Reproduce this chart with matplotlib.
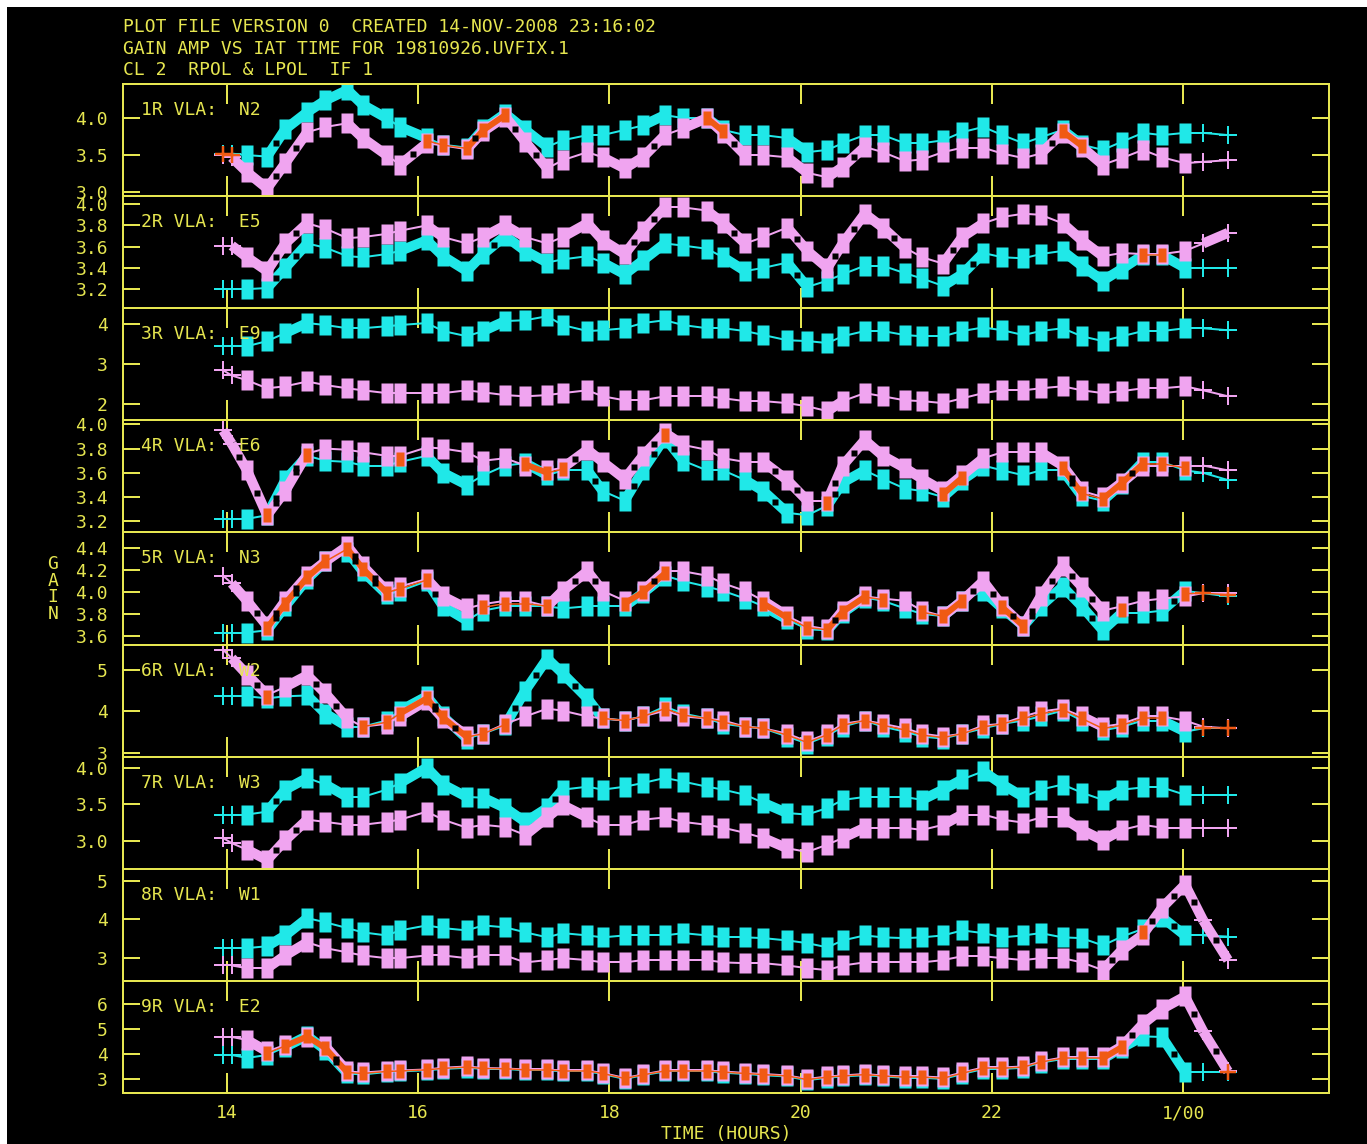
import numpy as np
import matplotlib
matplotlib.use("Agg")
import matplotlib.pyplot as plt
from matplotlib.collections import LineCollection
from matplotlib.patches import Rectangle
from matplotlib.path import Path

plt.rcParams['font.family'] = ['DejaVu Sans Mono']

W, H, DPI = 1367, 1144, 100
PX = 72.0 / DPI          # points per pixel
YEL = '#e6e650'
CYAN = '#20e8e8'
PINK = '#f0a4f0'
ORANGE = '#f05a14'
FS = 13

# ---- data -------------------------------------------------------------
# IAT sample times in hours (values past 24 run into the next day)
times = [13.96, 14.05, 14.21, 14.42, 14.61, 14.84, 15.03, 15.26, 15.42, 15.67,
         15.81, 16.09, 16.26, 16.51, 16.68, 16.91, 17.12, 17.35, 17.51, 17.77,
         17.93, 18.16, 18.35, 18.58, 18.77, 19.02, 19.19, 19.42, 19.61, 19.86,
         20.07, 20.28, 20.44, 20.67, 20.86, 21.09, 21.27, 21.49, 21.69, 21.91,
         22.11, 22.33, 22.51, 22.74, 22.94, 23.16, 23.36, 23.58, 23.78, 24.02,
         24.21, 24.47]

antennas = ['1R VLA:  N2', '2R VLA:  E5', '3R VLA:  E9', '4R VLA:  E6',
            '5R VLA:  N3', '6R VLA:  W2', '7R VLA:  W3', '8R VLA:  W1',
            '9R VLA:  E2']

rpol_n2 = [3.52, 3.52, 3.50, 3.48, 3.85, 4.08, 4.24, 4.38, 4.18, 4.00,
           3.88, 3.73, 3.64, 3.60, 3.85, 4.06, 3.84, 3.61, 3.70, 3.77,
           3.77, 3.84, 3.90, 4.04, 4.00, 4.00, 3.84, 3.77, 3.77, 3.73,
           3.54, 3.57, 3.66, 3.77, 3.77, 3.66, 3.66, 3.70, 3.81, 3.88,
           3.77, 3.66, 3.74, 3.84, 3.64, 3.57, 3.68, 3.80, 3.77, 3.80,
           3.80, 3.77]
lpol_n2 = [3.50, 3.47, 3.27, 3.05, 3.39, 3.81, 3.88, 3.93, 3.73, 3.50,
           3.37, 3.66, 3.63, 3.58, 3.82, 4.02, 3.68, 3.32, 3.43, 3.54,
           3.47, 3.32, 3.47, 3.77, 3.86, 4.00, 3.80, 3.50, 3.50, 3.47,
           3.26, 3.20, 3.34, 3.61, 3.54, 3.42, 3.44, 3.54, 3.60, 3.60,
           3.52, 3.46, 3.52, 3.80, 3.61, 3.37, 3.46, 3.57, 3.47, 3.39,
           3.41, 3.43]

rpol_e5 = [3.20, 3.20, 3.20, 3.21, 3.40, 3.63, 3.59, 3.51, 3.50, 3.53,
           3.56, 3.66, 3.51, 3.37, 3.53, 3.70, 3.56, 3.45, 3.48, 3.51,
           3.45, 3.34, 3.47, 3.63, 3.61, 3.58, 3.50, 3.37, 3.40, 3.45,
           3.22, 3.28, 3.34, 3.42, 3.42, 3.35, 3.30, 3.23, 3.34, 3.54,
           3.50, 3.49, 3.53, 3.56, 3.42, 3.28, 3.39, 3.52, 3.52, 3.40,
           3.40, 3.40]
lpol_e5 = [3.61, 3.61, 3.50, 3.37, 3.63, 3.82, 3.77, 3.68, 3.69, 3.72,
           3.75, 3.80, 3.69, 3.63, 3.69, 3.80, 3.69, 3.63, 3.69, 3.82,
           3.66, 3.53, 3.75, 3.97, 3.97, 3.94, 3.82, 3.63, 3.69, 3.78,
           3.56, 3.40, 3.63, 3.91, 3.78, 3.59, 3.50, 3.44, 3.69, 3.82,
           3.88, 3.91, 3.90, 3.82, 3.66, 3.51, 3.54, 3.53, 3.53, 3.56,
           3.63, 3.73]

rpol_e9 = [3.45, 3.45, 3.45, 3.58, 3.78, 4.03, 3.98, 3.90, 3.90, 3.95,
           3.98, 4.03, 3.83, 3.70, 3.83, 4.08, 4.10, 4.20, 3.98, 3.83,
           3.85, 3.90, 4.03, 4.10, 3.98, 3.90, 3.90, 3.83, 3.73, 3.60,
           3.58, 3.53, 3.70, 3.83, 3.83, 3.73, 3.70, 3.70, 3.83, 3.92,
           3.85, 3.73, 3.83, 3.90, 3.70, 3.58, 3.70, 3.83, 3.83, 3.90,
           3.90, 3.85]
lpol_e9 = [2.85, 2.72, 2.60, 2.40, 2.45, 2.57, 2.48, 2.40, 2.35, 2.28,
           2.28, 2.28, 2.28, 2.35, 2.30, 2.23, 2.20, 2.23, 2.28, 2.35,
           2.20, 2.10, 2.10, 2.20, 2.20, 2.20, 2.15, 2.08, 2.08, 2.03,
           1.95, 1.83, 2.08, 2.28, 2.20, 2.10, 2.08, 2.03, 2.15, 2.28,
           2.35, 2.35, 2.40, 2.45, 2.35, 2.28, 2.33, 2.40, 2.40, 2.45,
           2.35, 2.20]

rpol_e6 = [3.22, 3.22, 3.22, 3.25, 3.54, 3.74, 3.70, 3.69, 3.66, 3.66,
           3.69, 3.74, 3.60, 3.50, 3.58, 3.66, 3.68, 3.58, 3.62, 3.62,
           3.45, 3.37, 3.62, 3.89, 3.70, 3.62, 3.62, 3.54, 3.45, 3.27,
           3.25, 3.33, 3.52, 3.62, 3.55, 3.47, 3.45, 3.40, 3.54, 3.66,
           3.62, 3.58, 3.62, 3.62, 3.41, 3.37, 3.51, 3.69, 3.69, 3.62,
           3.60, 3.54]
lpol_e6 = [3.95, 3.84, 3.62, 3.25, 3.45, 3.76, 3.80, 3.79, 3.77, 3.74,
           3.74, 3.81, 3.80, 3.77, 3.70, 3.72, 3.66, 3.62, 3.64, 3.79,
           3.69, 3.55, 3.74, 3.93, 3.83, 3.79, 3.72, 3.69, 3.69, 3.54,
           3.37, 3.37, 3.66, 3.87, 3.74, 3.64, 3.55, 3.45, 3.58, 3.72,
           3.77, 3.77, 3.77, 3.66, 3.45, 3.40, 3.52, 3.66, 3.66, 3.66,
           3.66, 3.62]

rpol_n3 = [3.63, 3.63, 3.63, 3.65, 3.87, 4.12, 4.28, 4.37, 4.19, 3.98,
           4.01, 4.10, 3.87, 3.74, 3.83, 3.87, 3.87, 3.87, 3.85, 3.87,
           3.87, 3.87, 3.99, 4.15, 4.10, 4.05, 4.01, 3.94, 3.87, 3.75,
           3.66, 3.65, 3.81, 3.95, 3.92, 3.85, 3.80, 3.78, 3.92, 4.01,
           3.85, 3.69, 3.87, 4.05, 3.87, 3.65, 3.81, 3.81, 3.83, 4.01,
           3.99, 3.96]
lpol_n3 = [4.15, 4.08, 3.92, 3.69, 3.92, 4.15, 4.28, 4.42, 4.24, 4.01,
           4.05, 4.12, 3.96, 3.85, 3.89, 3.92, 3.92, 3.87, 4.01, 4.19,
           4.01, 3.92, 4.01, 4.19, 4.19, 4.15, 4.08, 4.01, 3.92, 3.78,
           3.69, 3.66, 3.83, 3.96, 3.94, 3.92, 3.83, 3.78, 3.92, 4.10,
           3.87, 3.69, 3.96, 4.24, 4.05, 3.83, 3.87, 3.92, 3.94, 3.96,
           3.99, 3.99]

rpol_w2 = [4.37, 4.37, 4.37, 4.32, 4.37, 4.39, 3.95, 3.63, 3.63, 3.78,
           4.02, 4.37, 3.88, 3.34, 3.46, 3.66, 4.51, 5.29, 4.93, 4.32,
           3.83, 3.78, 3.88, 4.12, 3.95, 3.83, 3.70, 3.63, 3.59, 3.39,
           3.22, 3.41, 3.63, 3.78, 3.63, 3.51, 3.39, 3.34, 3.46, 3.59,
           3.70, 3.78, 3.88, 4.02, 3.78, 3.54, 3.63, 3.78, 3.78, 3.51,
           3.59, 3.59]
lpol_w2 = [5.50, 5.30, 4.90, 4.40, 4.60, 4.88, 4.44, 3.83, 3.63, 3.70,
           3.88, 4.27, 3.83, 3.41, 3.46, 3.70, 3.88, 4.07, 4.02, 3.88,
           3.83, 3.78, 3.88, 4.02, 3.88, 3.83, 3.78, 3.63, 3.59, 3.46,
           3.27, 3.46, 3.70, 3.78, 3.70, 3.59, 3.46, 3.39, 3.46, 3.66,
           3.70, 3.88, 4.00, 4.07, 3.88, 3.63, 3.70, 3.88, 3.88, 3.78,
           3.63, 3.59]

rpol_w3 = [3.36, 3.36, 3.36, 3.40, 3.70, 3.86, 3.77, 3.60, 3.60, 3.70,
           3.79, 4.00, 3.77, 3.60, 3.59, 3.45, 3.26, 3.45, 3.70, 3.74,
           3.70, 3.74, 3.79, 3.86, 3.81, 3.74, 3.70, 3.63, 3.52, 3.38,
           3.36, 3.45, 3.56, 3.60, 3.60, 3.60, 3.56, 3.70, 3.84, 3.95,
           3.77, 3.60, 3.70, 3.77, 3.66, 3.56, 3.70, 3.73, 3.73, 3.63,
           3.63, 3.63]
lpol_w3 = [3.04, 2.97, 2.88, 2.74, 3.01, 3.29, 3.26, 3.22, 3.22, 3.26,
           3.29, 3.40, 3.29, 3.18, 3.22, 3.19, 3.08, 3.32, 3.49, 3.32,
           3.22, 3.22, 3.29, 3.32, 3.26, 3.22, 3.18, 3.11, 3.04, 2.90,
           2.85, 2.95, 3.04, 3.18, 3.18, 3.18, 3.15, 3.22, 3.36, 3.36,
           3.29, 3.25, 3.32, 3.32, 3.15, 3.01, 3.15, 3.22, 3.18, 3.18,
           3.18, 3.18]

rpol_w1 = [3.25, 3.25, 3.25, 3.30, 3.58, 4.03, 3.92, 3.77, 3.66, 3.58,
           3.71, 3.84, 3.77, 3.71, 3.84, 3.79, 3.66, 3.53, 3.64, 3.58,
           3.53, 3.58, 3.58, 3.58, 3.64, 3.58, 3.53, 3.53, 3.51, 3.45,
           3.38, 3.27, 3.45, 3.58, 3.53, 3.51, 3.53, 3.58, 3.71, 3.64,
           3.53, 3.58, 3.64, 3.53, 3.51, 3.32, 3.55, 3.75, 4.05, 3.58,
           3.58, 3.55]
lpol_w1 = [2.80, 2.80, 2.73, 2.73, 3.06, 3.40, 3.25, 3.14, 3.06, 2.99,
           2.99, 3.06, 3.06, 2.99, 3.06, 3.06, 2.88, 2.94, 2.99, 2.94,
           2.88, 2.88, 2.94, 2.94, 2.94, 2.94, 2.88, 2.86, 2.86, 2.80,
           2.73, 2.68, 2.80, 2.88, 2.88, 2.88, 2.88, 2.94, 3.04, 3.04,
           2.99, 2.94, 2.99, 2.99, 2.88, 2.68, 3.20, 3.60, 4.30, 4.90,
           3.97, 2.94]

rpol_e2 = [3.96, 3.96, 3.84, 3.96, 4.28, 4.72, 4.16, 3.22, 3.18, 3.28,
           3.30, 3.35, 3.40, 3.45, 3.40, 3.40, 3.35, 3.35, 3.30, 3.30,
           3.20, 3.00, 3.15, 3.30, 3.30, 3.30, 3.25, 3.20, 3.15, 3.10,
           2.95, 3.05, 3.10, 3.15, 3.10, 3.05, 3.05, 3.00, 3.20, 3.40,
           3.40, 3.45, 3.65, 3.80, 3.80, 3.80, 4.25, 4.70, 4.68, 3.28,
           3.28, 3.28]
lpol_e2 = [4.68, 4.68, 4.56, 4.10, 4.36, 4.68, 4.30, 3.30, 3.26, 3.32,
           3.34, 3.38, 3.45, 3.50, 3.44, 3.42, 3.38, 3.38, 3.34, 3.34,
           3.24, 3.04, 3.18, 3.34, 3.34, 3.34, 3.30, 3.24, 3.20, 3.14,
           3.00, 3.10, 3.14, 3.20, 3.14, 3.10, 3.10, 3.06, 3.26, 3.46,
           3.46, 3.50, 3.70, 3.86, 3.86, 3.86, 4.30, 5.20, 5.80, 6.30,
           4.90, 3.30]

rpol = [rpol_n2, rpol_e5, rpol_e9, rpol_e6, rpol_n3, rpol_w2, rpol_w3, rpol_w1, rpol_e2]
lpol = [lpol_n2, lpol_e5, lpol_e9, lpol_e6, lpol_n3, lpol_w2, lpol_w3, lpol_w1, lpol_e2]

ylims = [(2.946, 4.46), (3.02, 4.076), (1.6, 4.4), (3.108, 4.033), (3.52, 4.545),
         (2.9, 5.63), (2.62, 4.15), (2.40, 5.31), (2.44, 6.92)]
yticks = [[3.0, 3.5, 4.0], [3.2, 3.4, 3.6, 3.8, 4.0], [2, 3, 4],
          [3.2, 3.4, 3.6, 3.8, 4.0], [3.6, 3.8, 4.0, 4.2, 4.4], [3, 4, 5],
          [3.0, 3.5, 4.0], [3, 4, 5], [3, 4, 5, 6]]
yfmt = ['%.1f', '%.1f', '%d', '%.1f', '%.1f', '%d', '%.1f', '%d', '%d']

xticks = [14, 16, 18, 20, 22, 24]
xticklabels = ['14', '16', '18', '20', '22', '1/00']
xlim = (12.913, 25.526)

# ---- drawing helpers --------------------------------------------------
BOX = Path([(-0.6, -1), (0.6, -1), (0.6, 1), (-0.6, 1), (-0.6, -1)],
           [Path.MOVETO, Path.LINETO, Path.LINETO, Path.LINETO, Path.CLOSEPOLY])
STEEP_PX = 10.0


def draw_track(ax, t, v, color, z, scale=1.0):
    t = np.asarray(t, float)
    v = np.asarray(v, float)
    pts = np.column_stack([t, v])
    disp = ax.transData.transform(pts)
    dy = np.abs(np.diff(disp[:, 1]))
    steep = dy > STEEP_PX
    segs = np.stack([pts[:-1], pts[1:]], axis=1)
    lws = np.where(steep, 10 * PX, 2 * PX) * scale
    ax.add_collection(LineCollection(segs, colors=color, linewidths=lws,
                                     capstyle='butt', zorder=z))
    # scan boxes on the interior samples, thin crosses at both ends
    inner = slice(2, len(t) - 2)
    ax.plot(t[inner], v[inner], ls='none', marker=BOX, ms=20 * PX * scale,
            mfc=color, mec='none', zorder=z + 0.1)
    for idx in (0, 1, len(t) - 2, len(t) - 1):
        ax.plot(t[idx], v[idx], ls='none', marker='+', ms=18 * PX,
                mew=2 * PX, color=color, zorder=z + 0.1)
    return steep


def draw_overlap(ax, t, a, b, z):
    t = np.asarray(t, float)
    a = np.asarray(a, float)
    b = np.asarray(b, float)
    da = ax.transData.transform(np.column_stack([t, a]))
    db = ax.transData.transform(np.column_stack([t, b]))
    close = np.abs(da[:, 1] - db[:, 1]) < 7
    m = (a + b) / 2
    segs, lws = [], []
    for k in range(len(t) - 1):
        if close[k] and close[k + 1]:
            segs.append([(t[k], m[k]), (t[k + 1], m[k + 1])])
            steep = abs(da[k + 1, 1] - da[k, 1]) > STEEP_PX
            lws.append((6 if steep else 1.5) * PX)
    if segs:
        ax.add_collection(LineCollection(segs, colors=ORANGE, linewidths=lws,
                                         capstyle='butt', zorder=z))
    idx = np.where(close)[0]
    inner = idx[(idx >= 2) & (idx < len(t) - 2)]
    ax.plot(t[inner], m[inner], ls='none', marker=BOX, ms=14 * PX,
            mfc=ORANGE, mec='none', zorder=z + 0.1)
    ends = idx[(idx < 2) | (idx >= len(t) - 2)]
    ax.plot(t[ends], m[ends], ls='none', marker='+', ms=16 * PX,
            mew=2.5 * PX, color=ORANGE, zorder=z + 0.1)


def steep_midpoints(ax, t, v):
    t = np.asarray(t, float)
    v = np.asarray(v, float)
    disp = ax.transData.transform(np.column_stack([t, v]))
    dy = np.abs(np.diff(disp[:, 1]))
    sel = dy > 18
    mt = (t[:-1] + t[1:]) / 2
    mv = (v[:-1] + v[1:]) / 2
    ax.plot(mt[sel], mv[sel], ls='none', marker='s', ms=6 * PX,
            mfc='black', mec='none', zorder=5)


# ---- figure -----------------------------------------------------------
fig = plt.figure(figsize=(W / DPI, H / DPI), dpi=DPI, facecolor='white')
fig.patches.append(Rectangle((7 / W, 0), 1 - 7 / W, 1 - 7 / H,
                             transform=fig.transFigure, facecolor='black',
                             edgecolor='none', zorder=-10))

edges = np.linspace(84, 1093, 10)
x0, x1 = 123, 1329
for i in range(9):
    top, bot = edges[i], edges[i + 1]
    ax = fig.add_axes([x0 / W, 1 - bot / H, (x1 - x0) / W, (bot - top) / H])
    ax.set_facecolor('black')
    ax.set_xlim(*xlim)
    ax.set_ylim(*ylims[i])
    for sp in ax.spines.values():
        sp.set_color(YEL)
        sp.set_linewidth(2 * PX)
        sp.set_zorder(10)
    ax.set_xticks(xticks)
    ax.set_yticks(yticks[i])
    ax.set_yticklabels([yfmt[i] % v for v in yticks[i]])
    ax.tick_params(axis='both', direction='in', colors=YEL, top=True,
                   right=True, width=2 * PX, labelsize=FS)
    ax.tick_params(axis='x', length=20 * PX, pad=8 * PX * 1.4)
    ax.tick_params(axis='y', length=17 * PX, pad=15 * PX)
    if i < 8:
        ax.tick_params(axis='x', labelbottom=False)
    else:
        ax.set_xticklabels(xticklabels)

    draw_track(ax, times, rpol[i], CYAN, 2)
    draw_track(ax, times, lpol[i], PINK, 3)
    draw_overlap(ax, times, rpol[i], lpol[i], 4)
    steep_midpoints(ax, times, rpol[i])
    steep_midpoints(ax, times, lpol[i])

    fig.text(141 / W, 1 - (top + 31) / H, antennas[i], color=YEL,
             fontsize=FS, ha='left', va='baseline')

header = ['PLOT FILE VERSION 0  CREATED 14-NOV-2008 23:16:02',
          'GAIN AMP VS IAT TIME FOR 19810926.UVFIX.1',
          'CL 2  RPOL & LPOL  IF 1']
for k, line in enumerate(header):
    fig.text(123 / W, 1 - (32 + 21.5 * k) / H, line, color=YEL, fontsize=FS,
             ha='left', va='baseline')

fig.text(726 / W, 1 - 1139 / H, 'TIME (HOURS)', color=YEL, fontsize=FS,
         ha='center', va='baseline')
fig.text(53 / W, 1 - 589 / H, 'G\nA\nI\nN', color=YEL, fontsize=FS,
         ha='center', va='center', linespacing=0.9)

fig.savefig('out.png', dpi=DPI, facecolor=fig.get_facecolor())
